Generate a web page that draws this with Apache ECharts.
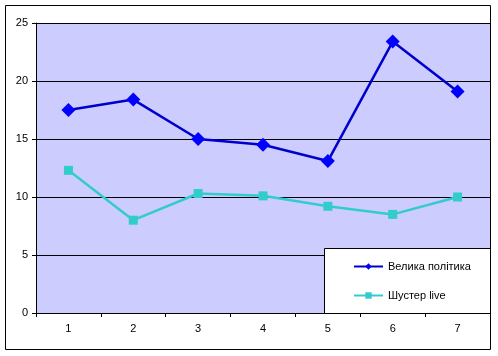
<!DOCTYPE html>
<html><head><meta charset="utf-8">
<script src="https://cdn.jsdelivr.net/npm/echarts@6/dist/echarts.min.js"></script>
<style>html,body{margin:0;padding:0;background:#fff}#c{width:498px;height:356px}</style>
</head><body><div id="c"></div>
<script>
const categories = ['1','2','3','4','5','6','7'];
const seriesNames = ['Велика політика', 'Шустер live'];
const velykaPolityka = [17.5, 18.4, 15.0, 14.5, 13.1, 23.4, 19.1];
const shusterLive = [12.3, 8.0, 10.3, 10.1, 9.2, 8.5, 10.0];
const yTicks = [0, 5, 10, 15, 20, 25];

const chart = echarts.init(document.getElementById('c'), null, {renderer: 'canvas'});
const font = 'Liberation Sans, Arial, sans-serif';
chart.setOption({
  animation: false,
  backgroundColor: '#fff',
  grid: {left: 36, top: 23, width: 454, height: 290, show: true, backgroundColor: '#CCCCFF', borderWidth: 0},
  graphic: [
    {type: 'rect', shape: {x: 5.5, y: 5.5, width: 485, height: 344}, style: {fill: null, stroke: '#000', lineWidth: 1}, z: 100},
    {type: 'rect', shape: {x: 324.5, y: 248.5, width: 166, height: 65}, style: {fill: '#fff', stroke: '#000', lineWidth: 1}, z: 50}
  ],
  legend: {
    orient: 'vertical', left: 348, top: 256, itemGap: 18, itemWidth: 29, itemHeight: 8,
    textStyle: {fontFamily: font, fontSize: 11, color: '#000'},
    data: seriesNames, z: 60
  },
  xAxis: {
    type: 'category', data: categories, boundaryGap: true,
    axisLine: {lineStyle: {color: '#000', width: 1}},
    axisTick: {show: true, length: 4, lineStyle: {color: '#000'}},
    axisLabel: {fontFamily: font, fontSize: 11, color: '#000', margin: 10},
    splitLine: {show: false}
  },
  yAxis: {
    type: 'value', min: 0, max: 25, interval: 5,
    axisLine: {show: true, lineStyle: {color: '#000', width: 1}},
    axisTick: {show: true, length: 4, lineStyle: {color: '#000'}},
    axisLabel: {fontFamily: font, fontSize: 11, color: '#000', margin: 8,
      formatter: v => yTicks.includes(v) ? String(v) : ''},
    splitLine: {show: true, lineStyle: {color: '#000', width: 1}}
  },
  series: [
    {name: seriesNames[0], type: 'line', data: velykaPolityka, symbol: 'diamond', symbolSize: 14,
     itemStyle: {color: '#0000FF'}, lineStyle: {color: '#0000CC', width: 2.5}, z: 10},
    {name: seriesNames[1], type: 'line', data: shusterLive, symbol: 'rect', symbolSize: 9,
     itemStyle: {color: '#33CCCC'}, lineStyle: {color: '#33CCCC', width: 2.5}, z: 9}
  ]
});
</script></body></html>
